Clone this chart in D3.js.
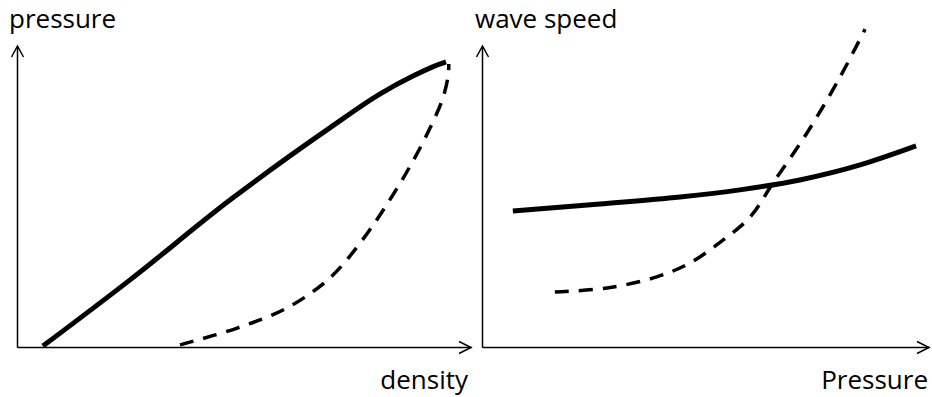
<!DOCTYPE html>
<html>
<head>
<meta charset="utf-8">
<script src="https://cdn.jsdelivr.net/npm/d3@7"></script>
<style>
  html, body { margin: 0; padding: 0; background: #fff; }
  svg { display: block; }
  .lbl { font-family: 'Open Sans', 'Noto Sans', sans-serif; font-size: 26px; fill: #000; }
</style>
</head>
<body>
<svg id="chart" width="932" height="397"></svg>
<script>
// ---- data (arbitrary units, 0..100 along each axis) ----
// left panel: pressure vs density
const densitySolid  = [5.7, 24.9, 46.9, 68.9, 80.0, 87.2, 92.1, 94.5];
const pressureSolid = [0.3, 22.3, 48.8, 72.8, 84.1, 90.0, 93.4, 94.7];
const densityDashed  = [35.9, 48.5, 59.5, 68.9, 75.6, 81.1, 86.6, 91.0, 93.8, 95.0, 95.1];
const pressureDashed = [0.7, 6.3, 13.0, 22.9, 34.6, 46.5, 60.1, 72.8, 82.7, 90.4, 94.0];

// right panel: wave speed vs pressure
const pressSolid = [6.9, 26.4, 44.3, 57.7, 71.1, 84.6, 97.1];
const speedSolid = [45.2, 47.5, 49.8, 52.2, 55.5, 60.5, 66.8];
const pressDashed = [16.3, 28.0, 39.1, 46.5, 53.9, 60.0, 65.1, 72.7, 80.1, 85.7];
const speedDashed = [18.3, 19.6, 23.3, 27.9, 35.5, 43.2, 54.5, 71.1, 89.7, 105.6];

const svg = d3.select('#chart');

function zip(xs, ys) {
    return xs.map((x, i) => ({ x: x, y: ys[i] }));
}

// draws one panel: axes with open arrow heads, two curves, labels
function drawPanel(cfg) {
    const x = d3.scaleLinear().domain([0, 100]).range(cfg.xRange);
    const y = d3.scaleLinear().domain([0, 100]).range(cfg.yRange);

    const g = svg.append('g');

    // axes, no ticks - only the domain line
    g.append('g')
        .attr('transform', `translate(0,${y(0)})`)
        .call(d3.axisBottom(x).tickValues([]).tickSizeOuter(0))
        .select('.domain').attr('stroke-width', 1.5);
    g.append('g')
        .attr('transform', `translate(${cfg.yAxisX},0)`)
        .call(d3.axisLeft(y).tickValues([]).tickSizeOuter(0))
        .select('.domain').attr('stroke-width', 1.5);

    // arrow heads
    const xEnd = x(100), yBase = y(0) + 0.5;
    g.append('path')
        .attr('d', `M${xEnd - 12},${yBase - 6}L${xEnd},${yBase}L${xEnd - 12},${yBase + 6}`)
        .attr('fill', 'none').attr('stroke', '#000').attr('stroke-width', 1.5);
    const yTop = y(100), xBase = cfg.yAxisX + 0.5;
    g.append('path')
        .attr('d', `M${xBase - 6},${yTop + 11}L${xBase},${yTop}L${xBase + 6},${yTop + 11}`)
        .attr('fill', 'none').attr('stroke', '#000').attr('stroke-width', 1.5);

    const solidLine = d3.line()
        .x(d => x(d.x))
        .y(d => y(d.y))
        .curve(d3.curveMonotoneX);
    const dashLine = d3.line()
        .x(d => x(d.x))
        .y(d => y(d.y))
        .curve(d3.curveCatmullRom.alpha(0.5));

    g.append('path')
        .datum(cfg.solid)
        .attr('d', solidLine)
        .attr('fill', 'none')
        .attr('stroke', '#000')
        .attr('stroke-width', 5);

    g.append('path')
        .datum(cfg.dashed)
        .attr('d', dashLine)
        .attr('fill', 'none')
        .attr('stroke', '#000')
        .attr('stroke-width', 3.5)
        .attr('stroke-dasharray', '14,10');

    g.append('text').attr('class', 'lbl')
        .attr('x', cfg.yLabel[0]).attr('y', cfg.yLabel[1])
        .text(cfg.yText);
    g.append('text').attr('class', 'lbl')
        .attr('x', cfg.xLabel[0]).attr('y', cfg.xLabel[1])
        .attr('text-anchor', 'end')
        .text(cfg.xText);
}

drawPanel({
    xRange: [17, 471], yRange: [347, 46], yAxisX: 17,
    solid: zip(densitySolid, pressureSolid),
    dashed: zip(densityDashed, pressureDashed),
    yText: 'pressure', yLabel: [9, 28],
    xText: 'density', xLabel: [468, 389]
});

drawPanel({
    xRange: [482, 929], yRange: [347, 46], yAxisX: 482,
    solid: zip(pressSolid, speedSolid),
    dashed: zip(pressDashed, speedDashed),
    yText: 'wave speed', yLabel: [475, 28],
    xText: 'Pressure', xLabel: [928, 389]
});
</script>
</body>
</html>
